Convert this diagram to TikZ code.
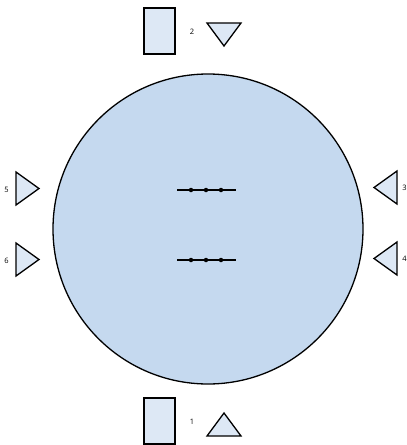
\documentclass[tikz,border=0pt]{standalone}
\usepackage{fontspec}
\setmainfont{Open Sans}
\definecolor{bigfill}{HTML}{C5D9EF}
\definecolor{smallfill}{HTML}{DDE8F5}
\begin{document}
\begin{tikzpicture}[x=1pt,y=-1pt,line width=1.3pt,line join=miter,
  part/.style={draw=black,fill=smallfill},
  lbl/.style={inner sep=0pt,font=\fontsize{7.5}{9}\selectfont},
  dot/.style={circle,fill=black,inner sep=0pt,minimum size=4.5pt}]
\useasboundingbox (0,0) rectangle (407,445);
% main circle
\node[draw=black,fill=bigfill,circle,minimum size=310pt,inner sep=0pt] (disk) at (208,229) {};
% top
\draw[part] (144,8) rectangle (175,54);
\node[lbl] (l2) at (192,32) {2};
\draw[part] (207,23) -- (241,23) -- (224,46) -- cycle;
% bottom
\draw[part] (144,398) rectangle (175,444);
\node[lbl] (l1) at (192,422) {1};
\draw[part] (207,436) -- (241,436) -- (224,413) -- cycle;
% left
\draw[part] (16,172) -- (16,205) -- (39,188.5) -- cycle;
\node[lbl] (l5) at (6.5,190) {5};
\draw[part] (16,243) -- (16,276) -- (39,259.5) -- cycle;
\node[lbl] (l6) at (6.5,261) {6};
% right
\draw[part] (397,171) -- (397,204) -- (374,187.5) -- cycle;
\node[lbl] (l3) at (404.5,188) {3};
\draw[part] (397,242) -- (397,275) -- (374,258.5) -- cycle;
\node[lbl] (l4) at (404.5,259) {4};
% bus lines
\coordinate (b1s) at (177,190); \coordinate (b1e) at (236,190);
\draw (b1s) -- (b1e);
\node[dot] (d11) at (191,190) {};
\node[dot] (d12) at (206,190) {};
\node[dot] (d13) at (221,190) {};
\coordinate (b2s) at (177,260); \coordinate (b2e) at (236,260);
\draw (b2s) -- (b2e);
\node[dot] (d21) at (191,260) {};
\node[dot] (d22) at (206,260) {};
\node[dot] (d23) at (221,260) {};
\end{tikzpicture}
\end{document}
